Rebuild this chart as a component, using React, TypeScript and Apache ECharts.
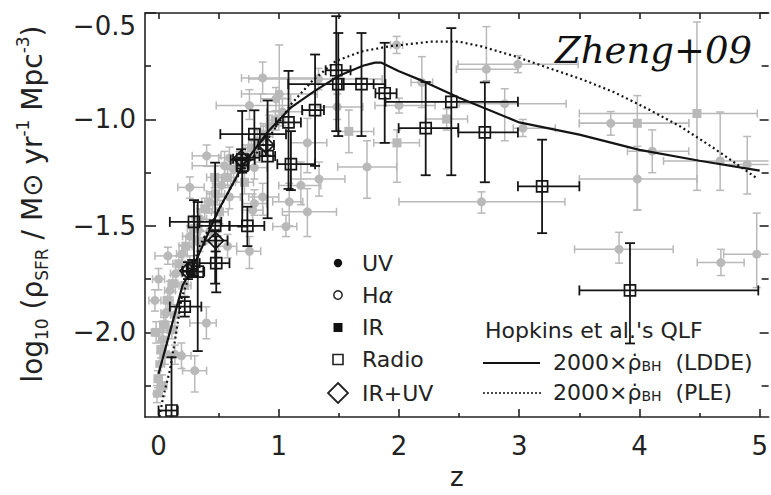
import React, { useEffect, useRef } from 'react';
import * as echarts from 'echarts';

// ---- axis ranges / ticks ----
const X_MIN = -0.1125;
const X_MAX = 5.074;
const Y_MIN = -2.398;
const Y_MAX = -0.5;
const X_MAJOR = [0, 1, 2, 3, 4, 5];
const X_MINOR = [0.5, 1.5, 2.5, 3.5, 4.5];
const X_TOP = [0, 0.5, 1, 1.5, 2, 2.5, 3, 3.5, 4, 4.5, 5];
const Y_LABELS = [-2.0, -1.5, -1.0];
const Y_TOP_LABEL = [-0.5];
const Y_MAJOR = [-2.0, -1.5, -1.0, -0.5];
const Y_MINOR = [-2.25, -1.75, -1.25, -0.75];

// ---- data: [z, y, zlo, zhi, ylo, yhi] ----
const RADIO = [
  [0.108, -2.367, 0.0, 0.16, -2.6, -2.117],
  [0.218, -1.879, 0.094, 0.356, -1.926, -1.834],
  [0.295, -1.481, 0.094, 0.522, -1.734, -1.379],
  [0.326, -1.715, 0.2, 0.38, -2.088, -1.388],
  [0.28, -1.7, 0.24, 0.32, -1.74, -1.66],
  [0.471, -1.5, 0.326, 0.59, -1.771, -1.203],
  [0.48, -1.675, 0.342, 0.59, -1.812, -1.549],
  [0.739, -1.5, 0.59, 0.88, -1.595, -1.41],
  [0.696, -1.189, 0.6, 0.8, -1.503, -0.96],
  [0.696, -1.217, 0.65, 0.75, -1.25, -1.18],
  [0.797, -1.069, 0.514, 1.06, -1.18, -0.957],
  [0.907, -1.172, 0.84, 0.97, -1.464, -0.911],
  [1.081, -1.014, 0.977, 1.184, -1.326, -0.772],
  [1.101, -1.21, 0.988, 1.302, -1.332, -1.055],
  [1.302, -0.956, 1.194, 1.376, -1.218, -0.695],
  [1.478, -0.769, 1.39, 1.597, -1.055, -0.515],
  [1.495, -0.834, 1.079, 1.887, -1.078, -0.594],
  [1.688, -0.834, 1.525, 1.789, -1.078, -0.594],
  [1.881, -0.877, 1.804, 1.98, -1.11, -0.64],
  [2.222, -1.041, 1.997, 2.493, -1.262, -0.824],
  [2.435, -0.917, 1.887, 2.989, -1.262, -0.571],
  [2.714, -1.061, 2.493, 2.989, -1.295, -0.826],
  [3.19, -1.314, 2.989, 3.5, -1.534, -1.095],
  [3.921, -1.803, 3.5, 4.988, -2.052, -1.581],
];

const IRUV = [
  [0.245, -1.711, 0.2, 0.29, -1.75, -1.67],
  [0.475, -1.569, 0.384, 0.574, -1.62, -1.52],
  [0.687, -1.184, 0.62, 0.75, -1.23, -1.14],
  [0.894, -1.12, 0.83, 0.96, -1.17, -1.07],
];

const GRAY_UV = [
  [1.98, -0.65, 1.93, 2.03, -0.69, -0.61],
  [2.727, -0.764, 2.477, 2.989, -0.818, -0.564],
  [2.989, -0.741, 2.49, 3.49, -0.78, -0.7],
  [1.734, -1.223, 1.49, 1.98, -1.37, -1.1],
  [2.686, -1.387, 2.0, 3.38, -1.44, -1.34],
  [2.879, -0.926, 2.5, 3.39, -1.1, -0.856],
  [3.03, -1.041, 2.95, 3.3, -1.08, -1.0],
  [3.761, -1.018, 3.5, 4.41, -1.074, -0.963],
  [3.982, -1.28, 3.5, 4.48, -1.426, -1.126],
  [4.106, -1.149, 3.9, 4.41, -1.25, -1.049],
  [4.671, -1.195, 4.2, 5.1, -1.333, -0.965],
  [4.896, -1.211, 4.67, 5.1, -1.35, -1.08],
  [3.83, -1.61, 3.46, 4.28, -1.675, -1.53],
  [4.677, -1.672, 4.48, 4.87, -1.733, -1.61],
  [4.975, -1.633, 4.7, 5.2, -1.79, -1.44],
  [1.238, -1.11, 1.1, 1.4, -1.25, -0.995],
  [1.238, -1.434, 1.03, 1.48, -1.55, -1.325],
  [1.335, -1.28, 1.1, 1.55, -1.36, -1.2],
  [1.184, -1.31, 1.0, 1.35, -1.4, -1.2],
  [2.19, -0.826, 2.1, 2.28, -0.944, -0.705],
  [2.0, -0.934, 1.8, 2.3, -0.97, -0.9],
  [0.866, -0.805, 0.69, 1.32, -0.88, -0.73],
  [1.004, -0.88, 0.69, 1.32, -0.98, -0.65],
  [0.756, -0.935, 0.48, 1.1, -1.0, -0.86],
  [0.977, -0.903, 0.85, 1.1, -0.96, -0.85],
  [1.486, -0.941, 1.3, 1.7, -1.0, -0.88],
  [1.03, -0.964, 0.9, 1.2, -1.03, -0.9],
  [1.087, -1.387, 0.95, 1.2, -1.5, -1.3],
  [0.866, -1.364, 0.75, 1.0, -1.45, -1.3],
  [0.398, -1.956, 0.26, 0.48, -2.03, -1.88],
  [0.301, -2.18, 0.2, 0.4, -2.28, -2.11],
  [0.191, -2.11, 0.1, 0.27, -2.17, -2.05],
  [0.756, -1.619, 0.65, 0.85, -1.7, -1.55],
  [0.549, -1.217, 0.28, 0.8, -1.28, -1.15],
  [1.33, -0.81, 0.75, 1.86, -0.86, -0.76],
  [-0.013, -2.288, -0.04, 0.02, -2.33, -2.25],
  [0.012, -2.149, -0.02, 0.05, -2.2, -2.1],
  [0.036, -2.033, 0.0, 0.07, -2.08, -1.99],
  [0.061, -1.909, 0.02, 0.1, -1.96, -1.86],
  [0.094, -1.803, 0.05, 0.14, -1.85, -1.76],
  [0.144, -1.724, 0.1, 0.19, -1.77, -1.68],
  [0.194, -1.632, 0.15, 0.24, -1.68, -1.59],
  [0.26, -1.549, 0.2, 0.32, -1.6, -1.5],
  [0.342, -1.466, 0.28, 0.4, -1.52, -1.42],
  [0.425, -1.388, 0.36, 0.49, -1.44, -1.34],
  [0.524, -1.309, 0.45, 0.6, -1.36, -1.26],
  [0.624, -1.235, 0.55, 0.7, -1.29, -1.18],
  [0.723, -1.171, 0.65, 0.8, -1.22, -1.12],
  [0.822, -1.101, 0.75, 0.9, -1.15, -1.05],
  [0.921, -1.032, 0.85, 1.0, -1.08, -0.98],
  [0.053, -2.103, 0.02, 0.09, -2.15, -2.06],
  [0.136, -1.918, 0.1, 0.17, -1.97, -1.87],
  [0.26, -1.688, 0.2, 0.32, -1.74, -1.64],
  [0.425, -1.526, 0.35, 0.5, -1.58, -1.47],
  [0.59, -1.364, 0.5, 0.68, -1.42, -1.31],
  [0.797, -1.226, 0.7, 0.9, -1.28, -1.17],
  [0.59, -1.18, 0.5, 0.68, -1.23, -1.13],
  [0.078, -1.641, -0.03, 0.2, -1.68, -1.6],
  [0.26, -1.319, 0.16, 0.38, -1.37, -1.27],
  [0.4, -1.171, 0.28, 0.52, -1.22, -1.12],
  [0.797, -1.395, 0.7, 0.9, -1.45, -1.33],
  [0.574, -1.596, 0.5, 0.65, -1.65, -1.54],
  [0.783, -1.426, 0.7, 0.87, -1.5, -1.35],
  [1.06, -1.503, 0.95, 1.15, -1.55, -1.45],
  [-0.03, -1.85, -0.08, 0.02, -1.9, -1.8],
  [0.0, -1.75, -0.05, 0.05, -1.8, -1.7],
  [0.136, -2.103, 0.08, 0.2, -2.15, -2.06],
];

const GRAY_IR = [
  [1.983, -1.11, 1.79, 2.17, -1.295, -1.049],
  [1.583, -1.056, 1.5, 1.79, -1.156, -0.956],
  [2.396, -0.998, 2.22, 2.57, -1.05, -0.95],
  [3.982, -1.018, 3.5, 4.41, -1.426, -0.888],
  [4.478, -0.972, 3.5, 4.98, -1.333, -0.542],
  [-0.005, -2.218, -0.03, 0.02, -2.26, -2.18],
  [0.02, -2.08, -0.01, 0.05, -2.12, -2.04],
  [0.045, -1.964, 0.01, 0.08, -2.0, -1.93],
  [0.078, -1.849, 0.04, 0.12, -1.89, -1.81],
  [0.119, -1.771, 0.08, 0.16, -1.81, -1.73],
  [0.169, -1.678, 0.12, 0.22, -1.72, -1.64],
  [0.227, -1.595, 0.17, 0.28, -1.64, -1.55],
  [0.301, -1.512, 0.24, 0.36, -1.56, -1.46],
  [0.384, -1.42, 0.32, 0.45, -1.47, -1.37],
  [0.475, -1.35, 0.4, 0.55, -1.4, -1.3],
  [0.574, -1.272, 0.5, 0.65, -1.32, -1.22],
  [0.674, -1.203, 0.6, 0.75, -1.25, -1.15],
  [0.773, -1.134, 0.7, 0.85, -1.18, -1.09],
  [0.872, -1.069, 0.8, 0.95, -1.12, -1.02],
  [0.971, -1.004, 0.9, 1.05, -1.05, -0.96],
  [0.111, -1.988, 0.07, 0.15, -2.03, -1.95],
  [0.218, -1.78, 0.17, 0.27, -1.83, -1.73],
  [0.342, -1.572, 0.28, 0.4, -1.62, -1.52],
  [0.508, -1.434, 0.44, 0.58, -1.49, -1.38],
  [0.715, -1.295, 0.64, 0.79, -1.35, -1.24],
  [0.466, -1.272, 0.4, 0.53, -1.32, -1.22],
  [0.839, -1.157, 0.77, 0.91, -1.2, -1.11],
  [-0.02, -2.0, -0.06, 0.03, -2.05, -1.95],
  [0.03, -2.25, -0.01, 0.07, -2.3, -2.2],
];

// ---- model curves: [z, log10 rho] ----
const LDDE = [
  [0.0, -2.195], [0.1, -1.987], [0.2, -1.78], [0.3, -1.678], [0.5, -1.424],
  [0.7, -1.217], [0.9, -1.064], [1.1, -0.944], [1.3, -0.866], [1.5, -0.795],
  [1.7, -0.748], [1.8, -0.733], [1.85, -0.733], [2.0, -0.774], [2.2, -0.82],
  [2.5, -0.898], [3.0, -1.014], [3.5, -1.071], [4.0, -1.143], [4.5, -1.194],
  [5.0, -1.24],
];
const PLE = [
  [0.0, -2.42], [0.039, -2.302], [0.094, -2.18], [0.136, -2.041], [0.191, -1.841],
  [0.342, -1.595], [0.522, -1.403], [0.632, -1.287], [0.715, -1.226], [0.9, -1.1],
  [1.1, -0.93], [1.28, -0.818], [1.473, -0.726], [1.693, -0.68], [1.914, -0.657],
  [2.272, -0.634], [2.493, -0.634], [2.686, -0.657], [2.962, -0.703], [3.237, -0.757],
  [3.513, -0.81], [3.789, -0.872], [4.064, -0.949], [4.34, -1.033], [4.616, -1.134],
  [4.966, -1.272],
];

const GRAY = '#b9b9b9';
const INK = '#151515';
const FONT = 'DejaVu Sans';

const makeErrRender = (color: string, cap: number, lw: number) => (params: any, api: any) => {
  const cs = params.coordSys;
  const x0 = cs.x, x1 = cs.x + cs.width, y0 = cs.y, y1 = cs.y + cs.height;
  const x = api.value(0), y = api.value(1);
  const c = api.coord([x, y]);
  const l = api.coord([api.value(2), y]);
  const r = api.coord([api.value(3), y]);
  const b = api.coord([x, api.value(4)]);
  const t = api.coord([x, api.value(5)]);
  const cx = (v: number) => Math.max(x0, Math.min(x1, v));
  const cy = (v: number) => Math.max(y0, Math.min(y1, v));
  const style = { stroke: color, lineWidth: lw, fill: 'none' };
  const h = cap / 2;
  const lx = cx(l[0]), rx = cx(r[0]), by = cy(b[1]), ty = cy(t[1]);
  const kids: any[] = [
    { type: 'line', shape: { x1: lx, y1: c[1], x2: rx, y2: c[1] }, style },
    { type: 'line', shape: { x1: c[0], y1: by, x2: c[0], y2: ty }, style },
  ];
  if (l[0] >= x0) kids.push({ type: 'line', shape: { x1: lx, y1: c[1] - h, x2: lx, y2: c[1] + h }, style });
  if (r[0] <= x1) kids.push({ type: 'line', shape: { x1: rx, y1: c[1] - h, x2: rx, y2: c[1] + h }, style });
  if (b[1] <= y1) kids.push({ type: 'line', shape: { x1: c[0] - h, y1: by, x2: c[0] + h, y2: by }, style });
  if (t[1] >= y0) kids.push({ type: 'line', shape: { x1: c[0] - h, y1: ty, x2: c[0] + h, y2: ty }, style });
  return { type: 'group', children: kids };
};

const axisLineStyle = { color: '#222', width: 1.6 };
const baseX = { type: 'value', min: X_MIN, max: X_MAX, splitLine: { show: false } };
const baseY = { type: 'value', min: Y_MIN, max: Y_MAX, splitLine: { show: false } };
const fmt = (v: number) => v.toFixed(1).replace('-', '\u2212');

const option: any = {
  animation: false,
  backgroundColor: '#ffffff',
  grid: { left: 145, right: -1, top: 13, bottom: 71, containLabel: false },
  xAxis: [
    {
      ...baseX, position: 'bottom',
      axisLine: { show: true, onZero: false, lineStyle: axisLineStyle },
      axisTick: { show: true, inside: true, length: 8, customValues: X_MAJOR, lineStyle: axisLineStyle },
      axisLabel: { show: true, customValues: X_MAJOR, margin: 16, fontFamily: FONT, fontSize: 26, color: '#222' },
      name: 'z', nameLocation: 'middle', nameGap: 42,
      nameTextStyle: { fontFamily: FONT, fontSize: 26, color: '#222' },
    },
    {
      ...baseX, position: 'bottom',
      axisLine: { show: false, onZero: false },
      axisTick: { show: true, inside: true, length: 4, customValues: X_MINOR, lineStyle: axisLineStyle },
      axisLabel: { show: false },
    },
    {
      ...baseX, position: 'top',
      axisLine: { show: true, onZero: false, lineStyle: axisLineStyle },
      axisTick: { show: true, inside: true, length: 6, customValues: X_TOP, lineStyle: axisLineStyle },
      axisLabel: { show: false },
    },
  ],
  yAxis: [
    {
      ...baseY, position: 'left',
      axisLine: { show: true, onZero: false, lineStyle: axisLineStyle },
      axisTick: { show: true, inside: true, length: 11, customValues: Y_MAJOR, lineStyle: axisLineStyle },
      axisLabel: { show: true, customValues: Y_LABELS, formatter: fmt, margin: 9, fontFamily: FONT, fontSize: 26, color: '#222' },
      name: 'log{s|10} (\u03c1{s|SFR} / M\u2299 yr{p|-1} Mpc{p|-3})',
      nameLocation: 'middle', nameGap: 95,
      nameTextStyle: {
        fontFamily: FONT, fontSize: 28, color: '#222', lineHeight: 36,
        padding: [0, 0, 0, 22],
        rich: {
          s: { fontFamily: FONT, fontSize: 17, color: '#222', verticalAlign: 'bottom', lineHeight: 17 },
          p: { fontFamily: FONT, fontSize: 17, color: '#222', verticalAlign: 'top', lineHeight: 17 },
        },
      },
    },
    {
      ...baseY, position: 'left',
      axisLine: { show: false, onZero: false },
      axisTick: { show: true, inside: true, length: 6, customValues: Y_MINOR, lineStyle: axisLineStyle },
      axisLabel: { show: true, customValues: Y_TOP_LABEL, formatter: fmt, margin: 9, verticalAlign: 'top', lineHeight: 26, fontFamily: FONT, fontSize: 26, color: '#222' },
    },
    {
      ...baseY, position: 'right',
      axisLine: { show: false, onZero: false },
      axisTick: { show: true, inside: true, length: 9, customValues: Y_MAJOR, lineStyle: axisLineStyle },
      axisLabel: { show: false },
    },
    {
      ...baseY, position: 'right',
      axisLine: { show: false, onZero: false },
      axisTick: { show: true, inside: true, length: 7, customValues: Y_MINOR, lineStyle: axisLineStyle },
      axisLabel: { show: false },
    },
  ],
  series: [
    { type: 'custom', name: 'grayErrUV', renderItem: makeErrRender(GRAY, 8, 1.5), data: GRAY_UV, encode: { x: 0, y: 1 }, z: 1, silent: true },
    { type: 'custom', name: 'grayErrIR', renderItem: makeErrRender(GRAY, 8, 1.5), data: GRAY_IR, encode: { x: 0, y: 1 }, z: 1, silent: true },
    { type: 'scatter', name: 'IR', data: GRAY_IR.map((d) => [d[0], d[1]]), symbol: 'rect', symbolSize: 9, itemStyle: { color: GRAY, opacity: 1 }, z: 2, silent: true },
    { type: 'scatter', name: 'UV', data: GRAY_UV.map((d) => [d[0], d[1]]), symbol: 'circle', symbolSize: 9, itemStyle: { color: GRAY, opacity: 1 }, z: 2, silent: true },
    { type: 'line', name: 'LDDE', data: LDDE, showSymbol: false, symbol: 'none', lineStyle: { color: INK, width: 2.2 }, z: 3, silent: true },
    { type: 'line', name: 'PLE', data: PLE, showSymbol: false, symbol: 'none', lineStyle: { color: INK, width: 2.2, type: [2, 3] }, z: 3, silent: true },
    { type: 'custom', name: 'blackErr', renderItem: makeErrRender(INK, 10, 1.8), data: RADIO, encode: { x: 0, y: 1 }, z: 4, silent: true },
    { type: 'custom', name: 'blackErrD', renderItem: makeErrRender(INK, 10, 1.8), data: IRUV, encode: { x: 0, y: 1 }, z: 4, silent: true },
    { type: 'scatter', name: 'Radio', data: RADIO.map((d) => [d[0], d[1]]), symbol: 'rect', symbolSize: 11, itemStyle: { color: 'rgba(255,255,255,0)', borderColor: INK, borderWidth: 1.7, opacity: 1 }, z: 5, silent: true },
    { type: 'scatter', name: 'IR+UV', data: IRUV.map((d) => [d[0], d[1]]), symbol: 'diamond', symbolSize: 16, itemStyle: { color: 'rgba(255,255,255,0)', borderColor: INK, borderWidth: 1.7, opacity: 1 }, z: 5, silent: true },
  ],
  graphic: [
    { type: 'text', x: 752, y: 50, z: 10, style: { text: 'Zheng+09', fontFamily: 'DejaVu Serif', fontStyle: 'italic', fontSize: 37, fill: '#111', align: 'right', verticalAlign: 'middle' } },
    // left legend
    { type: 'circle', shape: { cx: 338, cy: 263, r: 4.2 }, style: { fill: '#111' }, z: 10 },
    { type: 'circle', shape: { cx: 338, cy: 295, r: 4.2 }, style: { fill: 'none', stroke: '#222', lineWidth: 1.5 }, z: 10 },
    { type: 'rect', shape: { x: 333.5, y: 323, width: 9, height: 9 }, style: { fill: '#111' }, z: 10 },
    { type: 'rect', shape: { x: 333, y: 354.5, width: 10, height: 10 }, style: { fill: 'none', stroke: '#222', lineWidth: 1.6 }, z: 10 },
    { type: 'polygon', shape: { points: [[338, 383], [348, 393], [338, 403], [328, 393]] }, style: { fill: 'none', stroke: '#222', lineWidth: 1.8 }, z: 10 },
    { type: 'text', x: 362, y: 263, z: 10, style: { text: 'UV', fontFamily: FONT, fontSize: 22, fill: '#222', verticalAlign: 'middle' } },
    { type: 'text', x: 362, y: 295, z: 10, style: { text: 'H{a|\u03b1}', fontFamily: FONT, fontSize: 22, fill: '#222', verticalAlign: 'middle', rich: { a: { fontFamily: FONT, fontSize: 22, fontStyle: 'italic', fill: '#222' } } } },
    { type: 'text', x: 362, y: 327, z: 10, style: { text: 'IR', fontFamily: FONT, fontSize: 22, fill: '#222', verticalAlign: 'middle' } },
    { type: 'text', x: 362, y: 359, z: 10, style: { text: 'Radio', fontFamily: FONT, fontSize: 22, fill: '#222', verticalAlign: 'middle' } },
    { type: 'text', x: 362, y: 393, z: 10, style: { text: 'IR+UV', fontFamily: FONT, fontSize: 22, fill: '#222', verticalAlign: 'middle' } },
    // right legend
    { type: 'text', x: 485, y: 330, z: 10, style: { text: "Hopkins et al.'s QLF", fontFamily: FONT, fontSize: 22, fill: '#222', verticalAlign: 'middle' } },
    { type: 'line', shape: { x1: 483, y1: 363, x2: 540, y2: 363 }, style: { stroke: '#111', lineWidth: 2 }, z: 10 },
    { type: 'line', shape: { x1: 483, y1: 393, x2: 542, y2: 393 }, style: { stroke: '#111', lineWidth: 1.6, lineDash: [2, 2] }, z: 10 },
    { type: 'text', x: 553, y: 362, z: 10, style: { text: '2000\u00d7\u03c1\u0307{s|BH}  (LDDE)', fontFamily: FONT, fontSize: 22, fill: '#222', verticalAlign: 'middle', rich: { s: { fontFamily: FONT, fontSize: 14, fill: '#222', verticalAlign: 'bottom', lineHeight: 14 } } } },
    { type: 'text', x: 553, y: 392, z: 10, style: { text: '2000\u00d7\u03c1\u0307{s|BH}  (PLE)', fontFamily: FONT, fontSize: 22, fill: '#222', verticalAlign: 'middle', rich: { s: { fontFamily: FONT, fontSize: 14, fill: '#222', verticalAlign: 'bottom', lineHeight: 14 } } } },
  ],
};

export default function App() {
  const ref = useRef<HTMLDivElement>(null);
  useEffect(() => {
    if (!ref.current) return;
    const chart = echarts.init(ref.current, null, { renderer: 'svg' });
    chart.setOption(option);
    return () => chart.dispose();
  }, []);
  return (
    <div
      ref={ref}
      style={{ position: 'fixed', left: 0, top: 0, width: 771, height: 495, background: '#fff' }}
    />
  );
}
